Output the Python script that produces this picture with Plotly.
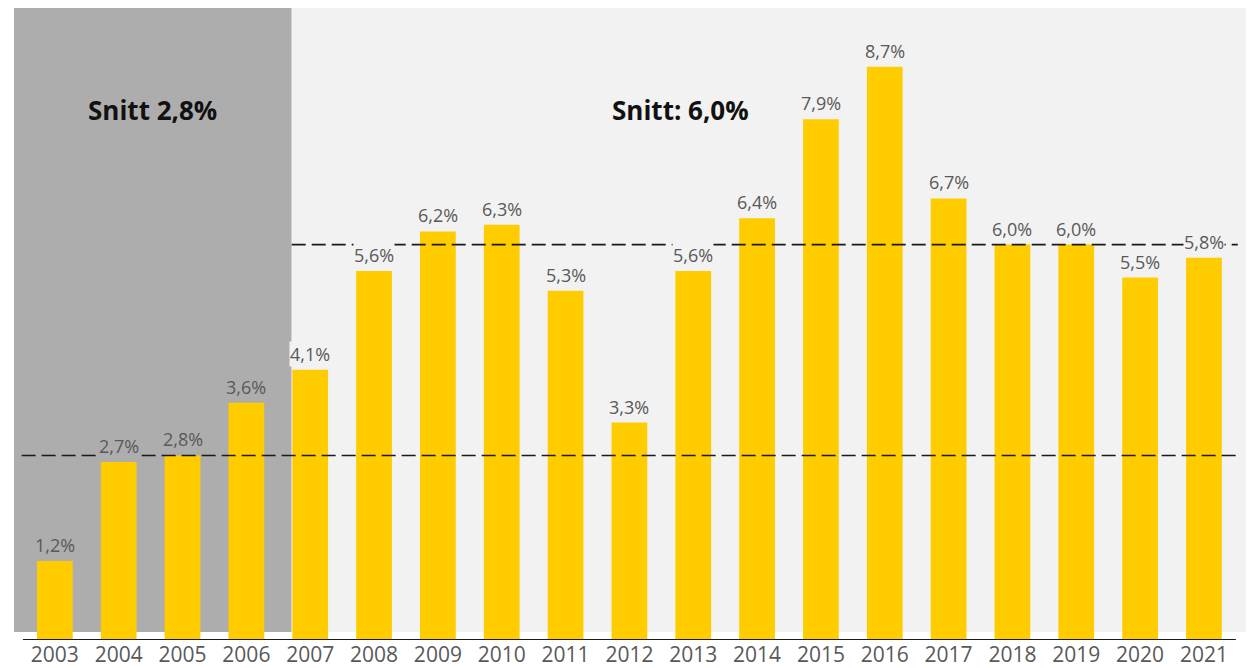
import plotly.graph_objects as go

# Data
years = [str(y) for y in range(2003, 2022)]
growth = [1.2, 2.7, 2.8, 3.6, 4.1, 5.6, 6.2, 6.3, 5.3, 3.3,
          5.6, 6.4, 7.9, 8.7, 6.7, 6.0, 6.0, 5.5, 5.8]
avg_early = 2.8
avg_late = 6.0
split_index = 4  # first year of the second period (2007)

BAR = "#FFCC00"
DARK_BG = "#ADADAD"
LIGHT_BG = "#F2F2F2"
TXT = "#595959"
FONT = "Open Sans"

labels = [f"{v:.1f}".replace(".", ",") + "%" for v in growth]

fig = go.Figure(go.Bar(
    x=years, y=growth, width=0.56,
    marker=dict(color=BAR, line=dict(width=0)),
    hoverinfo="x+y",
))

split_x = split_index - 0.29
n = len(years)

shapes = [
    # background panels
    dict(type="rect", xref="x", yref="y", x0=-0.64, x1=split_x, y0=0.12, y1=9.59,
         fillcolor=DARK_BG, line=dict(width=0), layer="below"),
    dict(type="rect", xref="x", yref="y", x0=split_x, x1=n - 0.31, y0=0.12, y1=9.59,
         fillcolor=LIGHT_BG, line=dict(width=0), layer="below"),
    # averages
    dict(type="line", xref="x", yref="y", x0=-0.52, x1=n - 0.47, y0=avg_early, y1=avg_early,
         line=dict(color="#1a1a1a", width=1.6, dash="14px,6px"), layer="above"),
    dict(type="line", xref="x", yref="y", x0=split_x, x1=n - 0.47, y0=avg_late, y1=avg_late,
         line=dict(color="#1a1a1a", width=1.6, dash="14px,6px"), layer="above"),
    # baseline
    dict(type="line", xref="x", yref="y", x0=-0.5, x1=n - 0.5, y0=0, y1=0,
         line=dict(color="#1a1a1a", width=2), layer="above"),
]

annotations = []
for i, (v, t) in enumerate(zip(growth, labels)):
    annotations.append(dict(
        x=i, y=v, text=t, showarrow=False, yanchor="bottom", yshift=3,
        font=dict(family=FONT, size=18, color=TXT),
        bgcolor=DARK_BG if i < split_index else LIGHT_BG, borderpad=0,
    ))

annotations.append(dict(
    x=(split_x - 0.64) / 2, y=8.04, text="<b>Snitt 2,8%</b>", showarrow=False,
    font=dict(family=FONT, size=26, color="#111111"),
))
annotations.append(dict(
    x=9.8, y=8.04, text="<b>Snitt: 6,0%</b>", showarrow=False,
    font=dict(family=FONT, size=26, color="#111111"),
))

# page body has an 8px margin, so the figure is 16px smaller than the window
fig.update_layout(
    width=1246, height=660,
    margin=dict(l=6, r=6, t=0, b=28, autoexpand=False),
    paper_bgcolor="white", plot_bgcolor="white",
    showlegend=False,
    shapes=shapes, annotations=annotations,
    xaxis=dict(type="category", range=[-0.64, n - 0.31], showgrid=False, zeroline=False,
               showline=False, ticks="", automargin=False, ticklabelstandoff=0,
               tickfont=dict(family=FONT, size=21, color=TXT)),
    yaxis=dict(range=[0, 9.59], showgrid=False, zeroline=False, showticklabels=False,
               automargin=False),
)

fig.write_html("out.html")
